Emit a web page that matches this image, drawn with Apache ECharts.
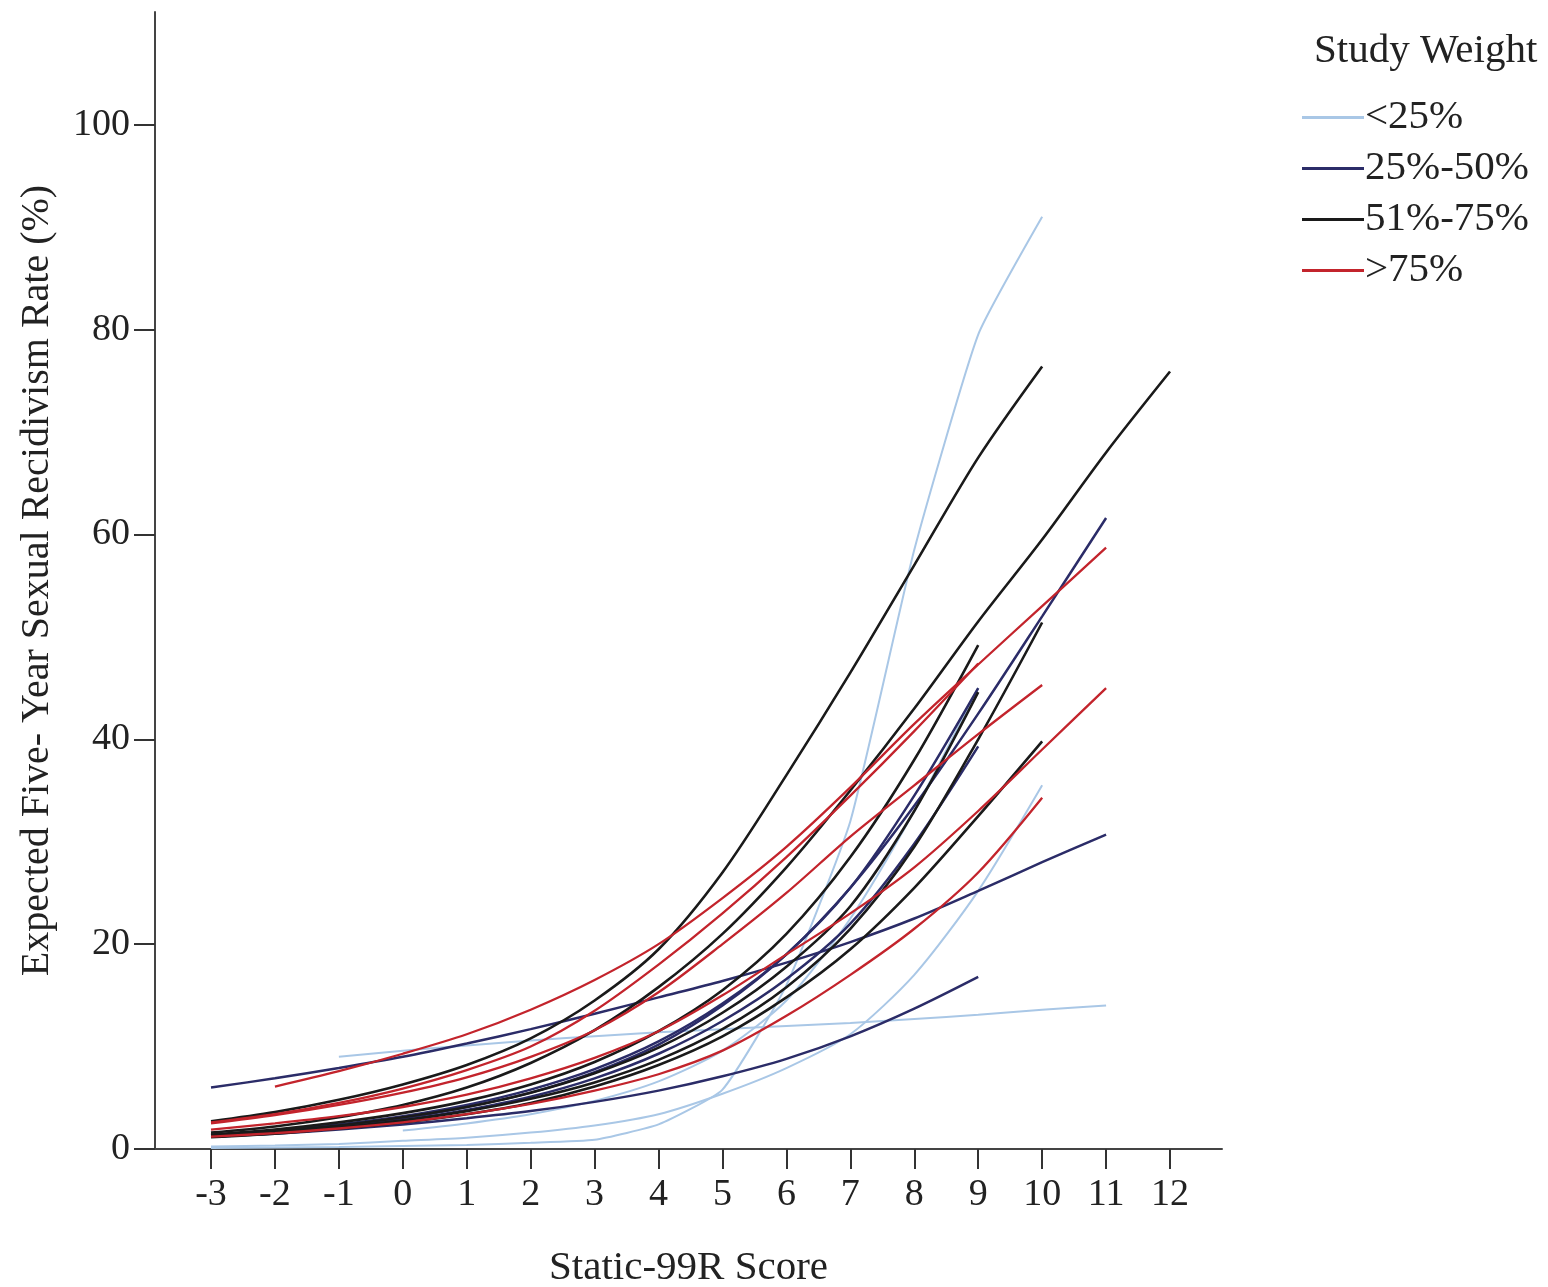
<!DOCTYPE html>
<html>
<head>
<meta charset="utf-8">
<script src="https://cdn.jsdelivr.net/npm/echarts@6/dist/echarts.min.js"></script>
<style>
html,body{margin:0;padding:0;background:#fff;}
#chart{width:1548px;height:1287px;}
</style>
</head>
<body>
<div id="chart"></div>
<script>
// Static-99R scores (x axis)
const scores = [-3,-2,-1,0,1,2,3,4,5,6,7,8,9,10,11,12];
const xTicks = [-3,-2,-1,0,1,2,3,4,5,6,7,8,9,10,11,12];
const yTicks = [0,20,40,60,80,100];

// <25% study weight
const lt25_a = [0.1,0.15,0.2,0.3,0.4,0.6,0.9,2.4,5.8,16,32,58.5,79.5,91,null,null];
const lt25_b = [null,null,9.0,9.6,10.1,10.6,11.0,11.4,11.7,12.0,12.3,12.7,13.1,13.6,14.0,null];
const lt25_c = [0.25,0.35,0.5,0.8,1.1,1.6,2.3,3.4,5.4,7.9,11.2,17.0,25.2,35.5,null,null];
const lt25_d = [null,null,null,1.8,2.5,3.4,4.7,6.6,9.6,14.5,22.5,33,45,null,null,null];

// 25%-50% study weight
const w2550_a = [6.0,6.9,7.9,9.0,10.3,11.7,13.2,14.8,16.4,18.2,20.2,22.5,25.2,28.0,30.7,null];
const w2550_b = [1.2,1.5,1.9,2.4,3.0,3.7,4.6,5.7,7.1,8.8,11.0,13.7,16.8,null,null,null];
const w2550_c = [1.3,1.7,2.3,3.0,4.1,5.5,7.5,10.2,14.0,19.0,25.5,33.5,42.5,52.0,61.6,null];
const w2550_d = [1.3,1.8,2.4,3.2,4.3,5.8,7.8,10.5,14.2,19.0,25.5,34.5,45.0,null,null,null];
const w2550_e = [1.2,1.6,2.1,2.8,3.8,5.1,6.9,9.3,12.5,16.6,22.0,29.8,39.3,null,null,null];

// 51%-75% study weight
const w5175_a = [2.7,3.6,4.8,6.3,8.2,10.8,14.5,19.5,27,36.5,46.5,57,67.5,76.4,null,null];
const w5175_b = [1.6,2.2,3.1,4.3,6.0,8.4,11.6,15.8,21,27.5,35,43,51.5,59.5,68,75.9];
const w5175_c = [1.4,1.9,2.6,3.5,4.7,6.3,8.5,11.5,15.5,21,28.5,38,49.2,null,null,null];
const w5175_d = [1.2,1.6,2.1,2.8,3.7,4.9,6.5,8.7,11.7,15.8,21.5,29.5,40,51.4,null,null];
const w5175_e = [1.15,1.5,2.0,2.6,3.4,4.5,6.1,8.2,11.0,14.8,19.5,25.5,32.5,39.8,null,null];
const w5175_f = [1.3,1.75,2.3,3.1,4.1,5.5,7.4,9.9,13.3,17.8,23.7,33,44.6,null,null,null];

// >75% study weight
const gt75_a = [null,6.1,7.6,9.3,11.2,13.6,16.5,20,24.5,29.5,35.3,41.5,47.3,53,58.7,null];
const gt75_b = [2.5,3.3,4.3,5.5,7.0,9.0,11.6,15.3,20,25,30.5,35.5,40.5,45.3,null,null];
const gt75_c = [2.6,3.4,4.5,5.9,7.7,10,13.5,18,23,28.5,34.5,40.8,47.4,null,null,null];
const gt75_d = [1.9,2.5,3.2,4.1,5.3,6.9,8.9,11.5,15,19,23,27.5,33,39,45,null];
const gt75_e = [1.2,1.55,2.0,2.6,3.4,4.4,5.7,7.3,9.6,13,17,21.5,27,34.3,null,null];

const groups = [
  {name:'<25%', color:'#a9c7e6', width:2, smooth:0.25, lines:[lt25_a,lt25_b,lt25_c,lt25_d]},
  {name:'25%-50%', color:'#2b2c68', width:2.5, smooth:0.3, lines:[w2550_a,w2550_b,w2550_c,w2550_d,w2550_e]},
  {name:'51%-75%', color:'#1a1a1a', width:2.6, smooth:0.3, lines:[w5175_a,w5175_b,w5175_c,w5175_d,w5175_e,w5175_f]},
  {name:'>75%', color:'#c3242c', width:2.3, smooth:0.3, lines:[gt75_a,gt75_b,gt75_c,gt75_d,gt75_e]}
];

const series = [];
groups.forEach(g => {
  g.lines.forEach((vals, k) => {
    const data = [];
    scores.forEach((s, i) => { if (vals[i] !== null) data.push([s, vals[i]]); });
    series.push({
      name: g.name, type:'line', data, symbol:'none',
      smooth: (g.name === '<25%' && k === 0) ? 0.15 : g.smooth,
      lineStyle:{color:g.color, width:g.width},
      itemStyle:{color:g.color},
      z: 2
    });
  });
});

const FONT = '"Liberation Serif", "Times New Roman", serif';
const chart = echarts.init(document.getElementById('chart'), null, {renderer:'canvas'});
chart.setOption({
  animation:false,
  backgroundColor:'#fff',
  title:[{
    text:'Study Weight', left:1309, top:26,
    textStyle:{fontFamily:FONT, fontSize:41, fontWeight:'normal', color:'#222'}
  }],
  legend:{
    data:['<25%','25%-50%','51%-75%','>75%'],
    orient:'vertical', left:1297, top:92,
    itemWidth:62, itemHeight:3, itemGap:10, icon:'rect',
    textStyle:{fontFamily:FONT, fontSize:41, color:'#222', lineHeight:40, padding:[0,0,0,-4]}
  },
  grid:{left:155, top:12, width:1067, height:1137, containLabel:false, outerBoundsMode:'none'},
  xAxis:{
    type:'value', min:-3.876, max:12.813,
    name:'Static-99R Score', nameLocation:'middle', nameGap:99,
    nameTextStyle:{fontFamily:FONT, fontSize:41, color:'#222'},
    axisLine:{show:true, onZero:false, lineStyle:{color:'#444', width:2}},
    axisTick:{show:true, length:20, inside:false, customValues:xTicks, lineStyle:{color:'#333', width:2}},
    axisLabel:{customValues:xTicks, fontFamily:FONT, fontSize:38, color:'#222', margin:27},
    splitLine:{show:false}
  },
  yAxis:{
    type:'value', min:0, max:111,
    name:'Expected Five- Year Sexual Recidivism Rate (%)', nameLocation:'middle', nameGap:98, nameRotate:90,
    nameTextStyle:{fontFamily:FONT, fontSize:40, color:'#222'},
    axisLine:{show:true, onZero:false, lineStyle:{color:'#444', width:2}},
    axisTick:{show:true, length:21, customValues:yTicks, lineStyle:{color:'#333', width:2}},
    axisLabel:{customValues:yTicks, fontFamily:FONT, fontSize:38, color:'#222', margin:25},
    splitLine:{show:false}
  },
  series
});
</script>
</body>
</html>
